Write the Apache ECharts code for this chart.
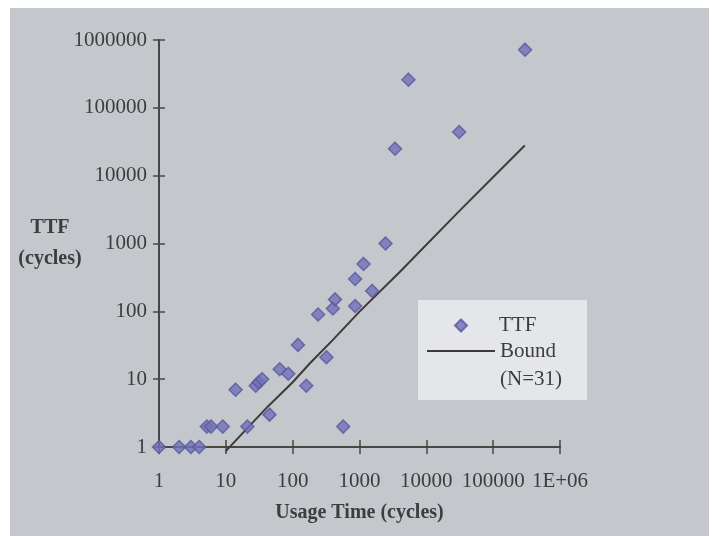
<!DOCTYPE html>
<html>
<head>
<meta charset="utf-8">
<script src="https://cdn.jsdelivr.net/npm/echarts@6/dist/echarts.min.js"></script>
<style>
  html, body { margin: 0; padding: 0; background: #ffffff; }
  #chart { width: 714px; height: 536px; }
</style>
</head>
<body>
<div id="chart"></div>
<script>
// TTF 测试点 (usage time, cycles to failure)
const usageTime = [1, 2, 3, 4, 5.2, 6, 9, 14, 21, 28, 31, 35, 45, 64, 86, 120, 160, 240, 320, 570,
  400, 430, 860, 860, 1150, 1550, 2450, 3400, 5400, 31000, 300000];
const ttf = [1, 1, 1, 1, 2, 2, 2, 7, 2, 8, 9, 10, 3, 14, 12, 32, 8, 90, 21, 2,
  110, 150, 120, 300, 500, 200, 1000, 25000, 260000, 44000, 720000];
// Bound (N=31) 折线
const boundX = [10, 20, 43, 100, 180, 400, 1000, 4000, 30000, 297000];
const boundY = [0.87, 1.8, 4, 9, 17, 38, 99, 380, 2900, 27800];
// 坐标轴刻度文字
const xTickLabels = ['1', '10', '100', '1000', '10000', '100000', '1E+06'];
const yTickLabels = ['1', '10', '100', '1000', '10000', '100000', '1000000'];

const font = 'Liberation Serif';
const ink = '#3d3d3d';
const axisInk = '#4a4644';

const chart = echarts.init(document.getElementById('chart'));

const decade = v => Math.round(Math.log10(v));

// 对数轴公共配置
const logAxis = {
  type: 'log',
  logBase: 10,
  min: 1,
  max: 1000000,
  splitNumber: 6,
  splitLine: { show: false }
};

const option = {
  animation: false,
  backgroundColor: '#ffffff',
  graphic: [{
    type: 'rect',
    z: -10,
    shape: { x: 10, y: 8, width: 699, height: 528 },
    style: { fill: '#c4c7cb' },
    silent: true
  }],
  grid: { left: 159, right: 154, top: 40, bottom: 89 },
  legend: [{
    // 图例底框 + Bound
    orient: 'vertical',
    left: 418,
    top: 300,
    z: 4,
    backgroundColor: '#e4e6e9',
    padding: [9, 25, 7, 8],
    itemWidth: 68,
    itemHeight: 14,
    textStyle: { fontFamily: font, fontSize: 21, color: ink, lineHeight: 28 },
    data: [{ name: 'Bound', itemStyle: { opacity: 0 } }],
    formatter: () => ' \nBound\n(N=31)'
  }, {
    // TTF
    orient: 'vertical',
    left: 454,
    top: 315,
    z: 6,
    padding: 0,
    itemWidth: 12,
    itemHeight: 12,
    textStyle: { fontFamily: font, fontSize: 21, color: ink, padding: [0, 0, 0, 27] },
    data: ['TTF']
  }],
  xAxis: [Object.assign({}, logAxis, {
    name: 'Usage Time (cycles)',
    nameLocation: 'middle',
    nameGap: 66,
    nameMoveOverlap: false,
    nameTextStyle: { fontFamily: font, fontSize: 20, fontWeight: 'bold', color: ink, verticalAlign: 'middle' },
    axisLine: { lineStyle: { color: axisInk, width: 2 } },
    axisTick: { length: 7, lineStyle: { color: axisInk, width: 1.5 } },
    axisLabel: {
      margin: 24,
      fontFamily: font, fontSize: 21, color: ink,
      formatter: v => xTickLabels[decade(v)]
    }
  }), Object.assign({}, logAxis, {
    // 十字刻度的上半截：顶部轴移到底边
    position: 'top',
    offset: -407,
    axisLine: { show: true, lineStyle: { color: axisInk, width: 2, opacity: 0 } },
    axisTick: { show: true, length: 7, lineStyle: { color: axisInk, width: 1.5 } },
    axisLabel: { show: false }
  })],
  yAxis: [Object.assign({}, logAxis, {
    name: 'TTF\n(cycles)',
    nameLocation: 'middle',
    nameRotate: 0,
    nameGap: 109,
    nameMoveOverlap: false,
    nameTextStyle: { fontFamily: font, fontSize: 20, fontWeight: 'bold', color: ink, align: 'center', lineHeight: 31 },
    axisLine: { lineStyle: { color: axisInk, width: 2 } },
    axisTick: { length: 6, lineStyle: { color: axisInk, width: 1.5 } },
    axisLabel: {
      margin: 12,
      fontFamily: font, fontSize: 21, color: ink,
      formatter: v => yTickLabels[decade(v)]
    }
  }), Object.assign({}, logAxis, {
    // 十字刻度的右半截：右侧轴移到左边
    position: 'right',
    offset: -401,
    axisLine: { show: true, lineStyle: { color: axisInk, width: 2, opacity: 0 } },
    axisTick: { show: true, length: 6, lineStyle: { color: axisInk, width: 1.5 } },
    axisLabel: { show: false }
  })],
  series: [{
    name: 'TTF',
    type: 'scatter',
    symbol: 'diamond',
    symbolSize: 13,
    clip: false,
    z: 5,
    itemStyle: { color: '#7070b6', borderColor: '#5858a0', borderWidth: 1.5 },
    data: usageTime.map((x, i) => [x, ttf[i]])
  }, {
    name: 'Bound',
    type: 'line',
    xAxisIndex: 1,
    yAxisIndex: 1,
    symbol: 'none',
    showSymbol: false,
    clip: false,
    lineStyle: { color: '#3e3a38', width: 2 },
    itemStyle: { color: '#3e3a38' },
    data: boundX.map((x, i) => [x, boundY[i]])
  }]
};

chart.setOption(option);
</script>
</body>
</html>
